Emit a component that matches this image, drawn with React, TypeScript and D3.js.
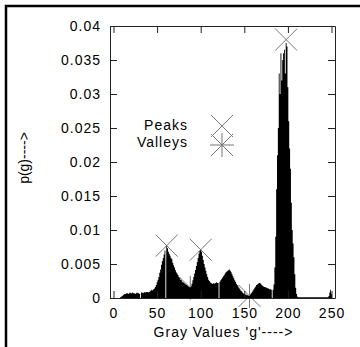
import React, { useEffect, useRef } from 'react'
import { select, scaleLinear, area, curveStep, axisLeft, axisRight, axisBottom, axisTop } from 'd3'

// histogram p(g), one value per gray level g = 0..254
const histogram = [
  0, 0, 0, 0, 0, 0, 0, 0, 0.0001, 0.0002,
  0.0003, 0.0004, 0.0005, 0.0006, 0.0006, 0.0007, 0.0007, 0.0006, 0.0007, 0.0008,
  0.0007, 0.0007, 0.0008, 0.0007, 0.0007, 0.0006, 0.0007, 0.0008, 0.0007, 0.0007,
  0.0006, 0, 0.0008, 0.0008, 0.0007, 0.0008, 0.0009, 0.0008, 0.0009, 0.0009,
  0.0008, 0.0009, 0.001, 0.0011, 0.0012, 0.0011, 0.0013, 0.0014, 0.0016, 0.0019,
  0.0023, 0.0027, 0.0031, 0.0037, 0.0042, 0.0049, 0.0054, 0.0059, 0.0064, 0.0070,
  0, 0.0076, 0.0073, 0.0068, 0.0065, 0.0062, 0.0059, 0.0057, 0.0052, 0.0048,
  0.0045, 0.0041, 0.0038, 0.0036, 0.0034, 0.0031, 0.0029, 0.0027, 0.0026, 0.0024,
  0.0023, 0.0022, 0.0021, 0.0020, 0.0019, 0.0018, 0.0017, 0.0016, 0.0015, 0.0017,
  0.0021, 0.0026, 0.0031, 0.0036, 0.0041, 0.0047, 0.0053, 0.0059, 0.0065, 0.0069,
  0.0071, 0.0068, 0.0062, 0.0056, 0.0050, 0.0045, 0.0040, 0.0035, 0.0031, 0.0027,
  0.0025, 0.0023, 0.0022, 0.0021, 0.0021, 0.0022, 0.0021, 0.0022, 0.0023, 0.0022,
  0.0022, 0, 0.0024, 0.0026, 0.0028, 0.0030, 0.0032, 0.0034, 0.0036, 0.0038,
  0.0039, 0.0040, 0.0041, 0.0042, 0.0040, 0.0038, 0.0035, 0.0032, 0.0029, 0.0026,
  0.0024, 0.0021, 0.0019, 0.0017, 0.0015, 0.0013, 0.0011, 0.0010, 0.0008, 0.0007,
  0.0006, 0.0005, 0.0005, 0.0004, 0.0004, 0.0003, 0.0003, 0.0005, 0.0007, 0.0009,
  0.0011, 0.0013, 0.0015, 0.0017, 0.0019, 0.0020, 0.0021, 0.0022, 0.0022, 0.0021,
  0.0019, 0.0018, 0.0017, 0.0016, 0.0016, 0.0015, 0.0015, 0.0014, 0.0014, 0.0013,
  0.0013, 0.0012, 0, 0.0012, 0.0020, 0.0045, 0.0090, 0.0160, 0.0210, 0.0250,
  0.0330, 0.0300, 0.0360, 0.0320, 0.0350, 0.0360, 0.0365, 0.0330, 0.0375, 0.0370,
  0.0310, 0.0260, 0.0220, 0.0190, 0.0140, 0.0100, 0.0080, 0.0060, 0.0035, 0.0015,
  0.0006, 0.0002, 0.0001, 0.0001, 0.0001, 0.0001, 0.0001, 0.0001, 0.0001, 0.0001,
  0.0001, 0.0001, 0.0001, 0.0001, 0.0001, 0.0001, 0.0001, 0.0001, 0.0001, 0.0001,
  0.0001, 0.0001, 0.0001, 0.0001, 0.0001, 0.0001, 0.0001, 0.0001, 0.0001, 0.0001,
  0.0001, 0.0001, 0.0001, 0.0001, 0.0001, 0.0001, 0.0001, 0.0003, 0.0008, 0.0012,
  0.0006, 0, 0, 0, 0,
]

const peakG = [61, 100, 198]
const peakP = [0.0077, 0.0071, 0.038]
const valleyG = [88, 156]
const valleyP = [0.0015, 0.0003]

const xTicks = [0, 50, 100, 150, 200, 250]
const yTicks = [0, 0.005, 0.01, 0.015, 0.02, 0.025, 0.03, 0.035, 0.04]

const W = 360
const H = 347
const FONT = '"Liberation Sans", Arial, Helvetica, sans-serif'
const MARK = '#777'

const crossPath = 'M-11,-11L11,11M-11,11L11,-11'
const starPath = 'M-11,-11L11,11M-11,11L11,-11M0,-12V12M-12,0H12'

export default function App() {
  const ref = useRef<SVGSVGElement>(null)

  useEffect(() => {
    const svg = select(ref.current)
    const m = { l: 110, r: 335, t: 26, b: 298 }

    const x = scaleLinear().domain([-4, 254]).range([m.l, m.r])
    const y = scaleLinear().domain([0, 0.04]).range([m.b, m.t])

    svg.selectAll('*').remove()

    // outer border (left + top only)
    svg.append('path')
      .attr('d', `M6,${H}V6H${W}`)
      .attr('fill', 'none')
      .attr('stroke', '#000')
      .attr('stroke-width', 2.5)

    svg.append('clipPath').attr('id', 'plotclip')
      .append('rect')
      .attr('x', m.l).attr('y', m.t)
      .attr('width', m.r - m.l).attr('height', m.b - m.t)

    // peak and valley markers (the histogram is drawn over them)
    svg.selectAll('.peak').data(peakG).join('path')
      .attr('class', 'peak')
      .attr('d', crossPath)
      .attr('transform', (g, i) => `translate(${x(g)},${y(peakP[i])})`)
      .attr('fill', 'none')
      .attr('stroke', MARK)

    svg.selectAll('.valley').data(valleyG).join('path')
      .attr('class', 'valley')
      .attr('d', starPath)
      .attr('transform', (g, i) => `translate(${x(g)},${y(valleyP[i])})`)
      .attr('fill', 'none')
      .attr('stroke', MARK)

    // histogram
    const hist = area<number>()
      .x((d, i) => x(i))
      .y0(y(0))
      .y1((d) => y(d))
      .curve(curveStep)

    svg.append('path')
      .datum(histogram)
      .attr('d', hist)
      .attr('fill', '#000')
      .attr('clip-path', 'url(#plotclip)')

    // axes, gnuplot style: ticks inward on all four sides
    const tick = 7
    const left = svg.append('g').attr('transform', `translate(${m.l},0)`)
      .call(axisLeft(y).tickValues(yTicks).tickFormat((d) => String(d)).tickSize(-tick).tickSizeOuter(0).tickPadding(9))
    const bottom = svg.append('g').attr('transform', `translate(0,${m.b})`)
      .call(axisBottom(x).tickValues(xTicks).tickFormat((d) => String(d)).tickSize(-tick).tickSizeOuter(0).tickPadding(10))
    svg.append('g').attr('transform', `translate(${m.r},0)`)
      .call(axisRight(y).tickValues(yTicks).tickFormat(() => '').tickSize(-tick).tickSizeOuter(0))
    svg.append('g').attr('transform', `translate(0,${m.t})`)
      .call(axisTop(x).tickValues(xTicks).tickFormat(() => '').tickSize(-tick).tickSizeOuter(0))

    svg.selectAll('.domain').attr('stroke', '#222')
    svg.selectAll('.tick line').attr('stroke', '#222')
    ;[left, bottom].forEach((g) => {
      g.attr('font-family', FONT).attr('font-size', 14)
      g.selectAll('text').attr('fill', '#000').style('letter-spacing', '1px')
    })

    // legend
    const legend = svg.append('g').attr('font-family', FONT).attr('font-size', 14)
    const legendItems = [
      { label: 'Peaks', path: crossPath, ty: 130, my: 126 },
      { label: 'Valleys', path: starPath, ty: 147, my: 145 },
    ]
    legend.selectAll('text').data(legendItems).join('text')
      .attr('x', 188)
      .attr('y', (d) => d.ty)
      .attr('text-anchor', 'end')
      .style('letter-spacing', '1px')
      .text((d) => d.label)
    legend.selectAll('path').data(legendItems).join('path')
      .attr('d', (d) => d.path)
      .attr('transform', (d) => `translate(222,${d.my})`)
      .attr('fill', 'none')
      .attr('stroke', MARK)

    // axis titles
    svg.append('text')
      .attr('transform', `translate(29,${(m.t + m.b) / 2 - 4}) rotate(-90)`)
      .attr('text-anchor', 'middle')
      .attr('font-family', FONT)
      .attr('font-size', 14)
      .text('p(g)---->')

    svg.append('text')
      .attr('x', (m.l + m.r) / 2 + 1)
      .attr('y', 337)
      .attr('text-anchor', 'middle')
      .attr('font-family', FONT)
      .attr('font-size', 14)
      .style('letter-spacing', '1px')
      .text("Gray Values 'g'---->")
  }, [])

  return (
    <svg
      ref={ref}
      width={W}
      height={H}
      style={{ position: 'absolute', left: 0, top: 0, background: '#fff' }}
    />
  )
}
